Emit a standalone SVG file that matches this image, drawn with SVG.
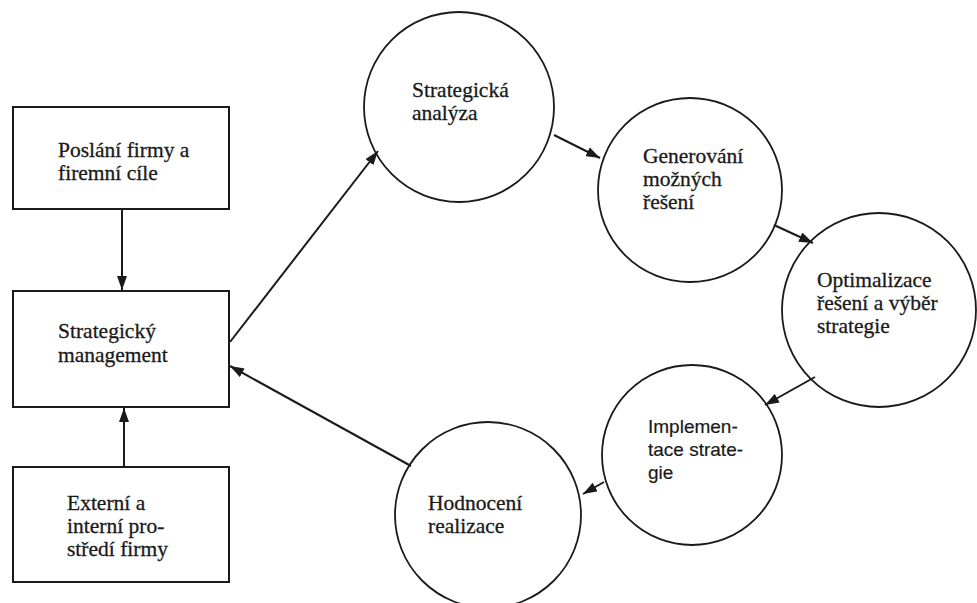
<svg xmlns="http://www.w3.org/2000/svg" width="977" height="603" viewBox="0 0 977 603">
  <style>
    .box { fill: #ffffff; stroke: #1a1a1a; stroke-width: 2; }
    .circ { fill: #ffffff; stroke: #1a1a1a; stroke-width: 1.8; }
    .lbl { font-family: "Liberation Serif", "Times New Roman", serif; font-size: 21.5px; fill: #1a1a1a; stroke: #1a1a1a; stroke-width: 0.3; }
    .lbl-sans { font-family: "Liberation Sans", Arial, sans-serif; font-size: 19px; fill: #1a1a1a; stroke: #1a1a1a; stroke-width: 0.2; }
    .conn { stroke: #1a1a1a; stroke-width: 2; fill: none; marker-end: url(#arrow); }
  </style>
  <defs>
    <marker id="arrow" viewBox="0 0 14 10" refX="14" refY="5" markerWidth="14" markerHeight="10" markerUnits="userSpaceOnUse" orient="auto">
      <path d="M0,0 L14,5 L0,10 Z" fill="#1a1a1a"/>
    </marker>
  </defs>
  <rect width="977" height="603" fill="#ffffff"/>

  <!-- left column: boxes -->
  <g id="poslani">
    <rect class="box" x="13" y="107" width="216" height="102"/>
    <text class="lbl" x="58" y="157">Poslání firmy a</text>
    <text class="lbl" x="58" y="180">firemní cíle</text>
  </g>
  <g id="strategicky-management">
    <rect class="box" x="13" y="291" width="216" height="116"/>
    <text class="lbl" x="58" y="338">Strategický</text>
    <text class="lbl" x="58" y="362">management</text>
  </g>
  <g id="prostredi">
    <rect class="box" x="13" y="467" width="216" height="115"/>
    <text class="lbl" x="67" y="510">Externí a</text>
    <text class="lbl" x="67" y="533">interní pro-</text>
    <text class="lbl" x="67" y="556">středí firmy</text>
  </g>

  <!-- process cycle: circles -->
  <g id="analyza">
    <circle class="circ" cx="459" cy="107" r="95"/>
    <text class="lbl" x="412" y="97">Strategická</text>
    <text class="lbl" x="412" y="120">analýza</text>
  </g>
  <g id="generovani">
    <circle class="circ" cx="690" cy="190" r="92"/>
    <text class="lbl" x="643" y="163">Generování</text>
    <text class="lbl" x="643" y="186">možných</text>
    <text class="lbl" x="643" y="209">řešení</text>
  </g>
  <g id="optimalizace">
    <circle class="circ" cx="879" cy="310" r="97"/>
    <text class="lbl" x="817" y="287">Optimalizace</text>
    <text class="lbl" x="817" y="310">řešení a výběr</text>
    <text class="lbl" x="817" y="333">strategie</text>
  </g>
  <g id="implementace">
    <circle class="circ" cx="692" cy="455" r="90"/>
    <text class="lbl-sans" x="648" y="433">Implemen-</text>
    <text class="lbl-sans" x="648" y="456">tace strate-</text>
    <text class="lbl-sans" x="648" y="479">gie</text>
  </g>
  <g id="hodnoceni">
    <circle class="circ" cx="488" cy="515" r="93"/>
    <text class="lbl" x="428" y="510">Hodnocení</text>
    <text class="lbl" x="428" y="533">realizace</text>
  </g>

  <!-- connectors -->
  <g id="connectors">
    <line class="conn" x1="122" y1="209" x2="122" y2="290"/>
    <line class="conn" x1="124" y1="467" x2="124" y2="408"/>
    <line class="conn" x1="230" y1="342" x2="378" y2="151"/>
    <line class="conn" x1="554" y1="135" x2="600" y2="158"/>
    <line class="conn" x1="774" y1="225" x2="813" y2="243"/>
    <line class="conn" x1="815" y1="377" x2="765" y2="405"/>
    <line class="conn" x1="604" y1="482" x2="583" y2="494"/>
    <line class="conn" x1="411" y1="466" x2="230" y2="366"/>
  </g>
</svg>
